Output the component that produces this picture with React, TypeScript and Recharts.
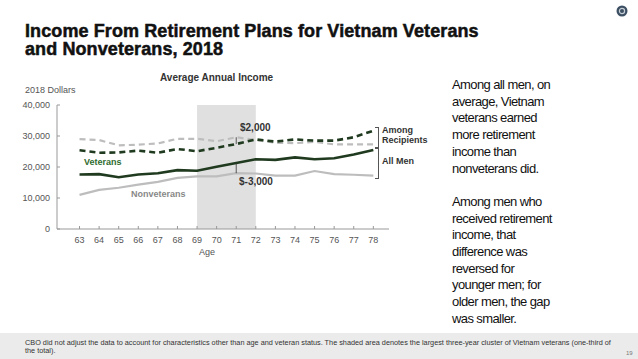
import { LineChart, Line, XAxis, YAxis, ReferenceArea, ReferenceLine } from 'recharts'

// ages and average annual income (2018 dollars)
const ages = [63, 64, 65, 66, 67, 68, 69, 70, 71, 72, 73, 74, 75, 76, 77, 78]
const vetAllMen = [17600, 17700, 16700, 17600, 18000, 19000, 18800, 20100, 21300, 22500, 22300, 23100, 22500, 22800, 24000, 25500]
const nonvetAllMen = [11000, 12600, 13300, 14300, 15200, 16500, 17000, 17000, 18000, 17900, 17200, 17200, 18700, 17700, 17500, 17200]
const vetRecipients = [25400, 24600, 24700, 25300, 24600, 25800, 25100, 26200, 27400, 28900, 28200, 28900, 28500, 28500, 29600, 31700]
const nonvetRecipients = [29000, 28700, 27000, 27200, 27600, 29100, 29100, 28300, 29600, 28700, 27800, 27700, 28100, 27300, 27300, 27300]
const yTicks = [0, 10000, 20000, 30000, 40000]
const cluster = [69, 72]
const gapAge = 71

const data = ages.map((age, i) => ({
  age,
  vetAll: vetAllMen[i],
  nonvetAll: nonvetAllMen[i],
  vetRec: vetRecipients[i],
  nonvetRec: nonvetRecipients[i],
}))
const gi = ages.indexOf(gapAge)

const chartFont = '"Liberation Sans", Arial, sans-serif'

const YTick = (props: any) => {
  const { x, y, payload } = props
  return (
    <g>
      <text x={x} y={y} dy={3} textAnchor="end" fontSize={9} fill="#555" fontFamily={chartFont}>
        {payload.value === 0 ? '0' : payload.value.toLocaleString('en-US')}
      </text>
      <line x1={x + 7} x2={x + 10} y1={y} y2={y} stroke="#999" />
    </g>
  )
}

const XTick = (props: any) => {
  const { x, y, payload } = props
  return (
    <g>
      <line x1={x} x2={x} y1={y - 4} y2={y - 7} stroke="#999" />
      <text x={x} y={y + 10} textAnchor="middle" fontSize={9} fill="#555" fontFamily={chartFont}>
        {payload.value}
      </text>
    </g>
  )
}

const abs = (left: number, top: number, extra: React.CSSProperties = {}): React.CSSProperties => ({
  position: 'absolute', left, top, whiteSpace: 'nowrap', lineHeight: 1, ...extra,
})

export default function App() {
  return (
    <div style={{ position: 'absolute', left: 0, top: 0, width: 638, height: 359, background: '#fff', overflow: 'hidden', fontFamily: chartFont }}>
      <div style={{ position: 'absolute', left: 25, top: 22, fontSize: 18, fontWeight: 700, color: '#111', lineHeight: '18px', letterSpacing: 0.1, WebkitTextStroke: '0.5px #111', whiteSpace: 'nowrap' }}>
        Income From Retirement Plans for Vietnam Veterans<br />and Nonveterans, 2018
      </div>
      <svg width={14} height={14} style={{ position: 'absolute', left: 615, top: 4 }}>
        <circle cx={7} cy={7} r={5.5} fill="#3d4f63" />
        <circle cx={7} cy={7} r={2.6} fill="none" stroke="#c8d0d8" strokeWidth={1.2} />
      </svg>

      <div style={abs(160, 73, { fontSize: 10, fontWeight: 700, color: '#333' })}>Average Annual Income</div>
      <div style={abs(25, 86, { fontSize: 9, color: '#555' })}>2018 Dollars</div>

      <div style={{ position: 'absolute', left: 0, top: 0 }}>
        <LineChart width={638} height={359} data={data} margin={{ top: 105, right: 249, bottom: 100, left: 7 }}>
          <ReferenceArea x1={cluster[0]} x2={cluster[1]} y1={0} y2={40000} fill="#e0e0e0" fillOpacity={1} stroke="none" />
          <XAxis
            dataKey="age"
            type="number"
            domain={[61.85, 78.8]}
            ticks={ages}
            height={30}
            tickLine={false}
            tickSize={0}
            tickMargin={4}
            axisLine={{ stroke: '#999' }}
            tick={<XTick />}
            interval={0}
          />
          <YAxis
            domain={[0, 40000]}
            ticks={yTicks}
            width={50}
            tickLine={false}
            tickSize={0}
            tickMargin={7}
            axisLine={{ stroke: '#999' }}
            tick={<YTick />}
          />
          <Line dataKey="nonvetAll" stroke="#bdbdbd" strokeWidth={2.2} dot={false} isAnimationActive={false} />
          <Line dataKey="nonvetRec" stroke="#bdbdbd" strokeWidth={2.2} strokeDasharray="6 4" dot={false} isAnimationActive={false} />
          <Line dataKey="vetAll" stroke="#1f3a1f" strokeWidth={2.6} dot={false} isAnimationActive={false} />
          <Line dataKey="vetRec" stroke="#1f3a1f" strokeWidth={2.6} strokeDasharray="6 4" dot={false} isAnimationActive={false} />
          <ReferenceLine
            segment={[{ x: gapAge, y: vetRecipients[gi] }, { x: gapAge, y: nonvetRecipients[gi] }]}
            stroke="#333"
            strokeWidth={0.8}
          />
          <ReferenceLine
            segment={[{ x: gapAge, y: nonvetAllMen[gi] }, { x: gapAge, y: vetAllMen[gi] }]}
            stroke="#333"
            strokeWidth={0.8}
          />
        </LineChart>
      </div>

      <div style={abs(199, 248, { fontSize: 9, color: '#555' })}>Age</div>
      <div style={abs(240, 123, { fontSize: 10, fontWeight: 700, color: '#333' })}>$2,000</div>
      <div style={abs(239, 177, { fontSize: 10, fontWeight: 700, color: '#333' })}>$-3,000</div>
      <div style={abs(84, 158, { fontSize: 9, fontWeight: 700, color: '#2f6b2f' })}>Veterans</div>
      <div style={abs(131, 190, { fontSize: 9, fontWeight: 700, color: '#888' })}>Nonveterans</div>

      <div style={{ position: 'absolute', left: 375, top: 127, width: 3, height: 19, borderTop: '1px solid #555', borderBottom: '1px solid #555', borderRight: '1px solid #555' }} />
      <div style={{ position: 'absolute', left: 375, top: 148, width: 3, height: 29, borderTop: '1px solid #555', borderBottom: '1px solid #555', borderRight: '1px solid #555' }} />
      <div style={abs(382, 126, { fontSize: 9, fontWeight: 700, color: '#333', lineHeight: '9.5px' })}>Among<br />Recipients</div>
      <div style={abs(382, 157, { fontSize: 9, fontWeight: 700, color: '#333' })}>All Men</div>

      <div style={{ position: 'absolute', left: 452, top: 77, width: 130, fontSize: 13, color: '#111', lineHeight: '16.7px', letterSpacing: -0.6, whiteSpace: 'nowrap' }}>
        Among all men, on<br />average, Vietnam<br />veterans earned<br />more retirement<br />income than<br />nonveterans did.
        <br /><br />
        Among men who<br />received retirement<br />income, that<br />difference was<br />reversed for<br />younger men; for<br />older men, the gap<br />was smaller.
      </div>

      <div style={{ position: 'absolute', left: 0, top: 333, width: 638, height: 26, background: '#ebebeb' }} />
      <div style={{ position: 'absolute', left: 25, top: 339, width: 590, fontSize: 7.3, color: '#333', lineHeight: '8px' }}>
        CBO did not adjust the data to account for characteristics other than age and veteran status. The shaded area denotes the largest three-year cluster of Vietnam veterans (one-third of the total).
      </div>
      <div style={abs(626, 350, { fontSize: 6, color: '#777' })}>19</div>
    </div>
  )
}
